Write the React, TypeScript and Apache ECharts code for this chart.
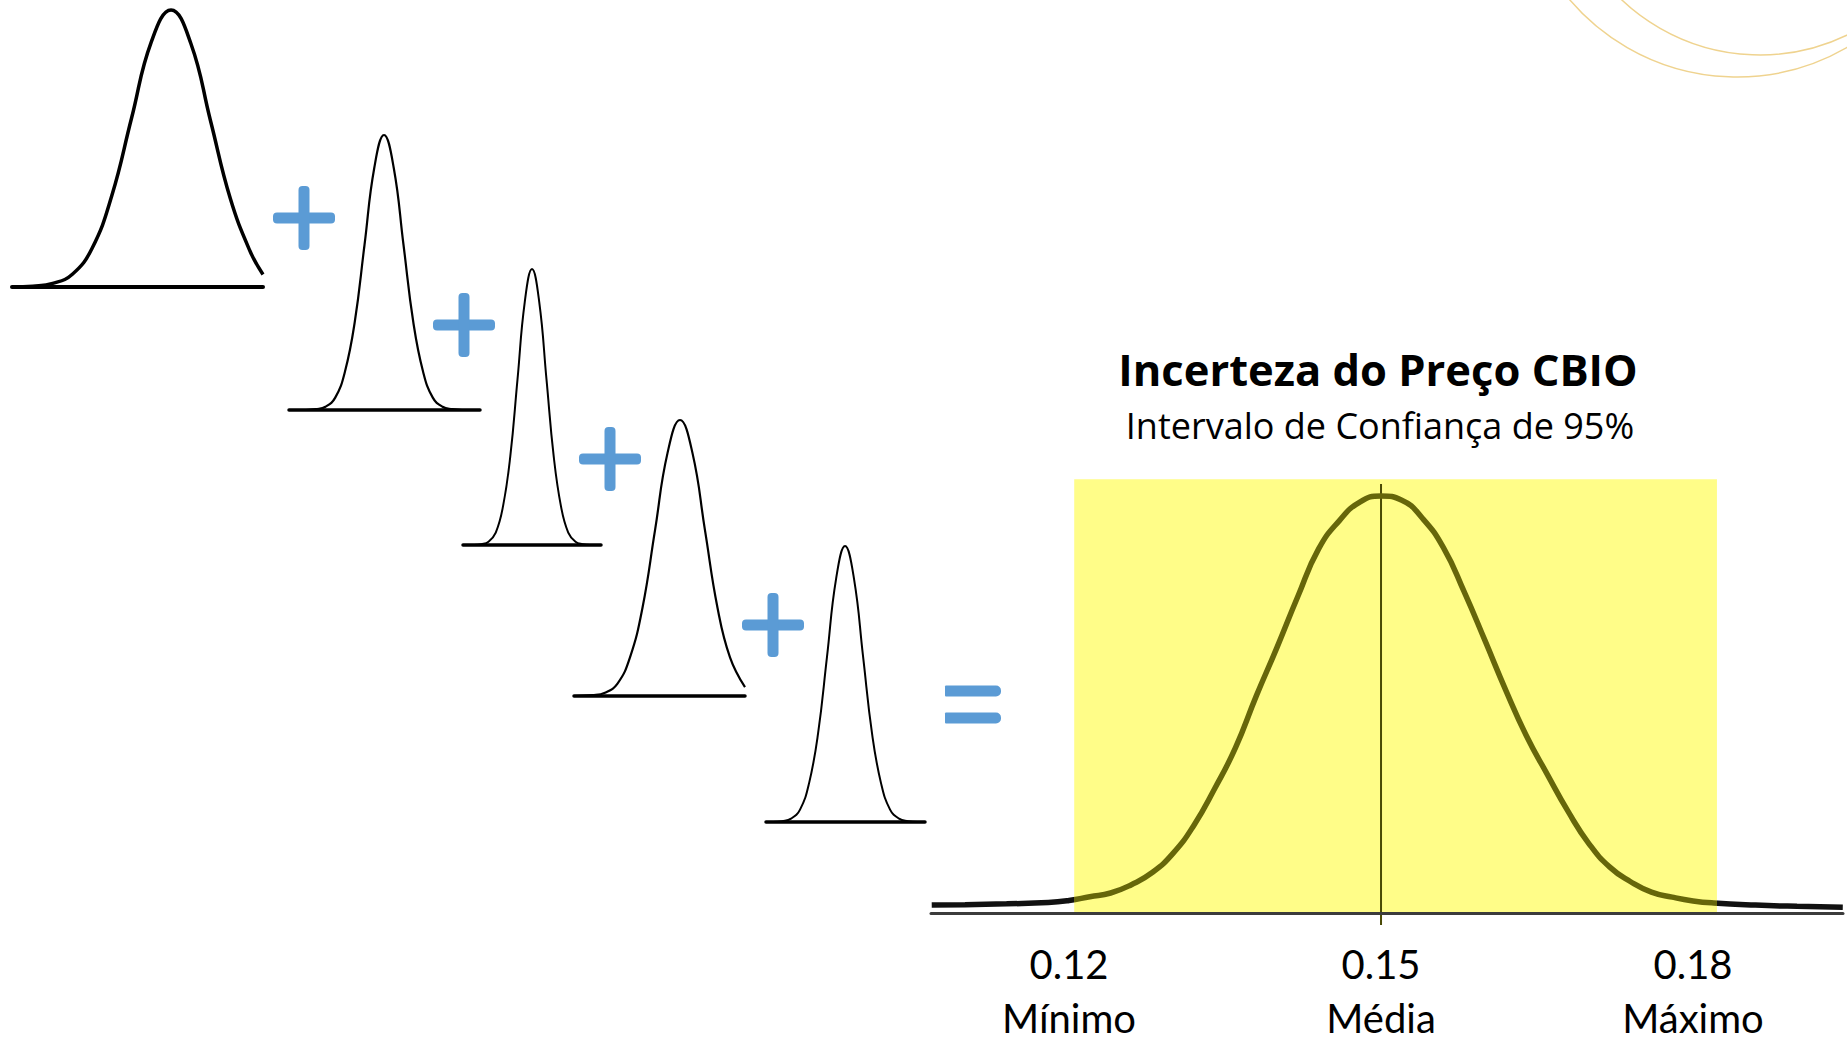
import React, { useEffect, useRef } from 'react';
import * as echarts from 'echarts';

// ---- data ----
// small input distributions: x in standard-deviation units, y = relative height
const curve1X = [-4.03, -3.5, -3, -2.5, -2, -1.5, -1, -0.5, 0, 0.5, 1, 1.5, 2, 2.33];
const curve1Y = [0, 0.003, 0.013, 0.046, 0.14, 0.33, 0.61, 0.885, 1, 0.88, 0.6, 0.32, 0.13, 0.045];

const curve2X = [-4.87, -4, -3.5, -3, -2.5, -2, -1.5, -1, -0.5, 0, 0.5, 1, 1.5, 2, 2.5, 3, 3.5, 4, 4.92];
const curve2Y = [0, 0, 0.003, 0.012, 0.045, 0.14, 0.32, 0.6, 0.88, 1, 0.88, 0.6, 0.32, 0.14, 0.045, 0.012, 0.003, 0, 0];

const curve3X = [-4.76, -4, -3.5, -3, -2.5, -2, -1.5, -1, -0.5, 0, 0.5, 1, 1.5, 2, 2.5, 3, 3.5, 4, 4.76];
const curve3Y = [0, 0, 0.003, 0.012, 0.045, 0.14, 0.32, 0.6, 0.88, 1, 0.88, 0.6, 0.32, 0.14, 0.045, 0.012, 0.003, 0, 0];

const curve4X = [-4.24, -3.5, -3, -2.5, -2, -1.5, -1, -0.5, 0, 0.5, 1, 1.5, 2, 2.6];
const curve4Y = [0, 0.003, 0.012, 0.045, 0.14, 0.32, 0.6, 0.88, 1, 0.88, 0.6, 0.32, 0.14, 0.032];

const curve5X = [-4.39, -4, -3.5, -3, -2.5, -2, -1.5, -1, -0.5, 0, 0.5, 1, 1.5, 2, 2.5, 3, 3.5, 4, 4.44];
const curve5Y = [0, 0, 0.003, 0.012, 0.045, 0.14, 0.32, 0.6, 0.88, 1, 0.88, 0.6, 0.32, 0.14, 0.045, 0.012, 0.003, 0, 0];

// resulting CBIO price distribution (price, relative height)
const priceX = [0.1068, 0.110, 0.114, 0.118, 0.120, 0.122, 0.124, 0.126, 0.128, 0.130, 0.132, 0.134, 0.136,
  0.138, 0.140, 0.142, 0.144, 0.146, 0.148, 0.150, 0.152, 0.154, 0.156, 0.158, 0.160, 0.162, 0.164, 0.166,
  0.168, 0.170, 0.172, 0.174, 0.176, 0.178, 0.180, 0.182, 0.186, 0.190, 0.1944];
const priceY = [0.019, 0.020, 0.022, 0.025, 0.030, 0.039, 0.048, 0.068, 0.097, 0.143, 0.21, 0.298, 0.396,
  0.52, 0.637, 0.759, 0.873, 0.941, 0.986, 1.0, 0.99, 0.946, 0.876, 0.77, 0.653, 0.534, 0.424, 0.332,
  0.243, 0.166, 0.11, 0.075, 0.05, 0.038, 0.029, 0.024, 0.019, 0.016, 0.014];

const tickValues = [0.12, 0.15, 0.18];
const tickNames = ['Mínimo', 'Média', 'Máximo'];
const meanPrice = 0.15;
const ciLow = 0.1205;
const ciHigh = 0.1823;
const titleText = 'Incerteza do Preço CBIO';
const subtitleText = 'Intervalo de Confiança de 95%';

// ---- layout / styles ----
const smallLayout = [
  { xs: curve1X, ys: curve1Y, left: 12, top: 10, width: 251, height: 277, lw: 3.5, base: 4 },
  { xs: curve2X, ys: curve2Y, left: 289, top: 135, width: 191, height: 275, lw: 2.2, base: 3.5 },
  { xs: curve3X, ys: curve3Y, left: 463, top: 269, width: 138, height: 276, lw: 2, base: 3.5 },
  { xs: curve4X, ys: curve4Y, left: 574, top: 420, width: 171, height: 276, lw: 2.2, base: 3.5 },
  { xs: curve5X, ys: curve5Y, left: 766, top: 546, width: 159, height: 276, lw: 2, base: 3.5 },
];
const plusCenters = [
  [304, 218],
  [464, 325],
  [610, 459],
  [773, 625],
];
const BLUE = '#5B9BD5';
const FONT = 'Lato';
const TITLE_FONT = 'Open Sans';

export default function App() {
  const ref = useRef<HTMLDivElement>(null);

  useEffect(() => {
    if (!ref.current) return;
    const chart = echarts.init(ref.current, undefined, { renderer: 'svg' });

    const grids: any[] = [];
    const xAxes: any[] = [];
    const yAxes: any[] = [];
    const series: any[] = [];

    smallLayout.forEach((c, i) => {
      grids.push({ left: c.left, top: c.top, width: c.width, height: c.height, containLabel: false, outerBoundsMode: 'none' });
      xAxes.push({
        type: 'value', gridIndex: i, min: c.xs[0], max: c.xs[c.xs.length - 1],
        axisLine: { show: true, onZero: true, lineStyle: { color: '#000', width: c.base } },
        axisTick: { show: false }, axisLabel: { show: false }, splitLine: { show: false },
      });
      yAxes.push({ type: 'value', gridIndex: i, min: 0, max: 1, show: false });
      series.push({
        type: 'line', xAxisIndex: i, yAxisIndex: i, clip: false,
        data: c.xs.map((v, j) => [v, c.ys[j]]),
        smooth: 0.45, symbol: 'none', silent: true,
        lineStyle: { color: '#000', width: c.lw },
        z: 3,
      });
    });

    const bi = smallLayout.length;
    grids.push({ left: 931, top: 479.3, width: 912, height: 450.4, containLabel: false, outerBoundsMode: 'none' });
    xAxes.push({
      type: 'value', gridIndex: bi, min: 0.10673, max: 0.19442, z: 6,
      axisLine: { show: true, onZero: true, lineStyle: { color: '#3c3c3c', width: 3 } },
      axisTick: { show: false },
      splitLine: { show: false },
      axisLabel: {
        show: true,
        customValues: tickValues,
        margin: 7,
        fontFamily: FONT,
        fontSize: 40,
        lineHeight: 54,
        color: '#000',
        formatter: (v: number) => {
          const k = tickValues.findIndex((t) => Math.abs(t - v) < 1e-9);
          return v.toFixed(2) + '\n' + (k >= 0 ? tickNames[k] : '');
        },
      },
    });
    yAxes.push({ type: 'value', gridIndex: bi, min: -0.04, max: 1.04, show: false });

    // yellow 95% band
    series.push({
      type: 'line', xAxisIndex: bi, yAxisIndex: bi, data: [], symbol: 'none', silent: true, z: 1,
      markArea: {
        silent: true,
        itemStyle: { color: '#FFFD88' },
        data: [[{ xAxis: ciLow, yAxis: 0 }, { xAxis: ciHigh, yAxis: 1.04 }]],
      },
    });
    // mean line
    series.push({
      type: 'line', xAxisIndex: bi, yAxisIndex: bi, symbol: 'none', silent: true, z: 3,
      data: [[meanPrice, -0.029], [meanPrice, 1.029]],
      lineStyle: { color: '#4a4a05', width: 2 },
    });
    // price curve
    const curveIndex = series.length;
    series.push({
      type: 'line', xAxisIndex: bi, yAxisIndex: bi, symbol: 'none', silent: true, z: 4,
      data: priceX.map((v, j) => [v, priceY[j]]),
      smooth: 0.5,
      lineStyle: { width: 5.5 },
    });

    const graphic: any[] = [];
    plusCenters.forEach(([cx, cy]) => {
      graphic.push({ type: 'rect', shape: { x: cx - 31, y: cy - 5.5, width: 62, height: 11, r: 4 }, style: { fill: BLUE } });
      graphic.push({ type: 'rect', shape: { x: cx - 5.5, y: cy - 32, width: 11, height: 64, r: 4 }, style: { fill: BLUE } });
    });
    graphic.push({ type: 'rect', shape: { x: 945, y: 685.5, width: 56, height: 11, r: [1, 5, 5, 1] }, style: { fill: BLUE } });
    graphic.push({ type: 'rect', shape: { x: 945, y: 712.5, width: 56, height: 11, r: [1, 5, 5, 1] }, style: { fill: BLUE } });
    // decorative arcs
    graphic.push({ type: 'circle', shape: { cx: 1737, cy: -142.6, r: 219.6 }, style: { fill: 'none', stroke: '#EFD38F', lineWidth: 1.5 } });
    graphic.push({ type: 'circle', shape: { cx: 1760, cy: -145.6, r: 200.6 }, style: { fill: 'none', stroke: '#EFD38F', lineWidth: 1.5 } });

    chart.setOption({
      animation: false,
      backgroundColor: '#fff',
      title: [
        {
          text: titleText, left: 1373, top: 342, textAlign: 'center',
          textStyle: { fontFamily: TITLE_FONT, fontWeight: 'bold', fontSize: 43.5, color: '#000' },
        },
        {
          text: subtitleText, left: 1375, top: 402, textAlign: 'center',
          textStyle: { fontFamily: TITLE_FONT, fontWeight: 'normal', fontSize: 36, color: '#000' },
        },
      ],
      grid: grids,
      xAxis: xAxes,
      yAxis: yAxes,
      visualMap: {
        show: false,
        type: 'piecewise',
        seriesIndex: curveIndex,
        dimension: 0,
        pieces: [
          { lt: ciLow, color: '#111111' },
          { gte: ciLow, lte: ciHigh, color: '#66660a' },
          { gt: ciHigh, color: '#111111' },
        ],
      },
      graphic,
      series,
    });

    return () => chart.dispose();
  }, []);

  return (
    <div
      ref={ref}
      style={{ position: 'fixed', left: 0, top: 0, width: '1847px', height: '1042px', background: '#fff' }}
    />
  );
}
